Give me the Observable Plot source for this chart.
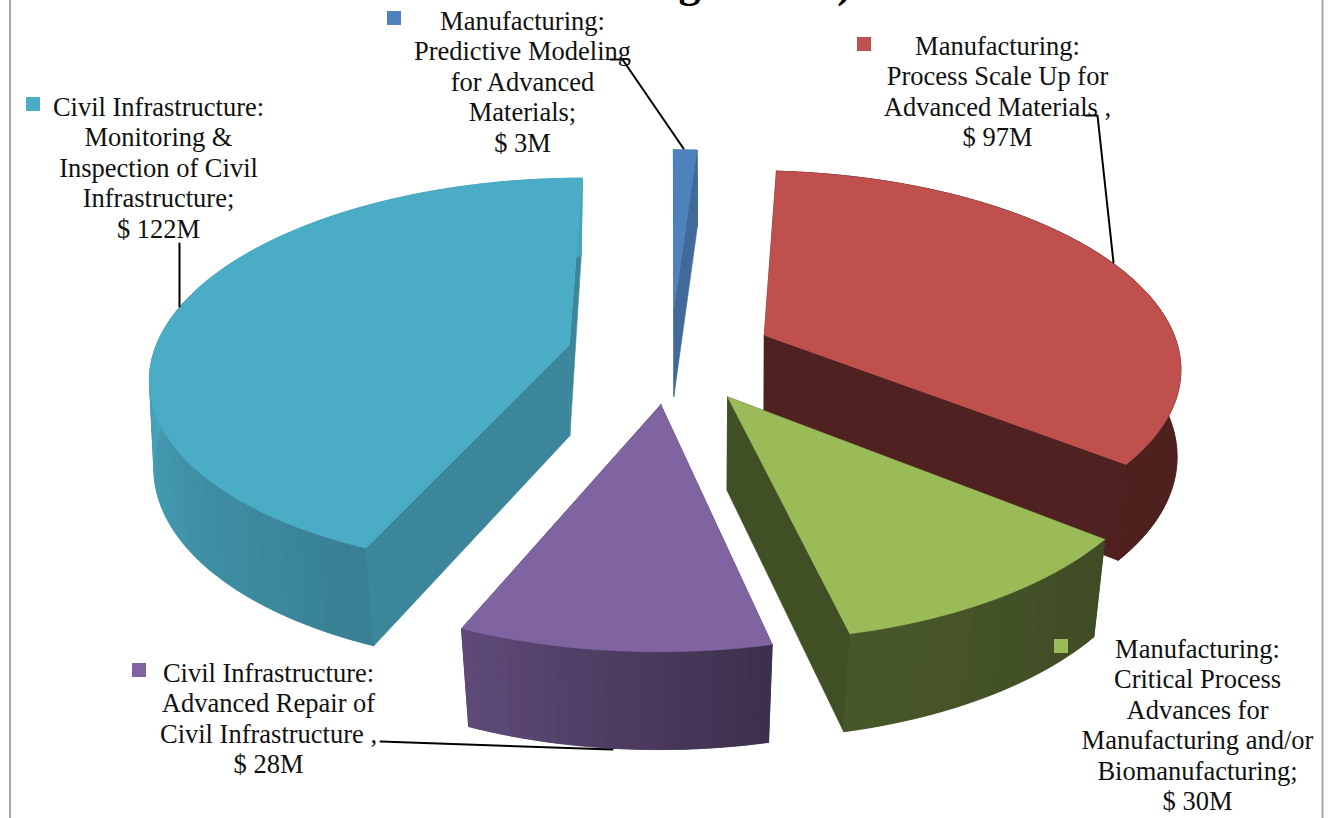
<!DOCTYPE html>
<html>
<head>
<meta charset="utf-8">
<script src="https://cdn.jsdelivr.net/npm/d3@7"></script>
<script src="https://cdn.jsdelivr.net/npm/@observablehq/plot@0.6"></script>
<style>html,body{margin:0;padding:0;background:#fff}</style>
</head>
<body>
<div id="chart"></div>
<script>
// Data
const categories = [
  "Manufacturing: Predictive Modeling for Advanced Materials",
  "Manufacturing: Process Scale Up for Advanced Materials",
  "Manufacturing: Critical Process Advances for Manufacturing and/or Biomanufacturing",
  "Civil Infrastructure: Advanced Repair of Civil Infrastructure",
  "Civil Infrastructure: Monitoring & Inspection of Civil Infrastructure"
];
const values = [3, 97, 30, 28, 122];
const labelTexts = [
  "Manufacturing:\nPredictive Modeling\nfor Advanced\nMaterials;\n$ 3M",
  "Manufacturing:\nProcess Scale Up for\nAdvanced Materials ,\n$ 97M",
  "Manufacturing:\nCritical Process\nAdvances for\nManufacturing and/or\nBiomanufacturing;\n$ 30M",
  "Civil Infrastructure:\nAdvanced Repair of\nCivil Infrastructure ,\n$ 28M",
  "Civil Infrastructure:\nMonitoring &\nInspection of Civil\nInfrastructure;\n$ 122M"
];
// Styles and layout
const colors = ["#4f81bd", "#c0504d", "#9bbb59", "#8064a2", "#4bacc6"];
const innerShade = [0.82, 0.41, 0.42, 0.6, 0.78];
const labelCenterX = [522, 997, 1197, 268, 158];
const labelFirstLineY = [21, 46, 649, 673, 107];
const keyX = [387, 857, 1054, 132, 26];
const keyY = [11, 37, 639, 663, 97];
const leaders = [
  [[610, 59], [622, 59], [683, 148]],
  [[1085, 115], [1097, 115], [1113, 262]],
  [],
  [[380, 741], [612, 749]],
  [[179, 243], [179, 306]]
];
const drawOrder = [0, 4, 1, 3, 2];

// Projection of the exploded pie
const P = {cx: 670, cy: 354, R: 416, Rs: 194, p: 0.148, H: 92, q0: 0.006, q1: 0.02, explode: 0.25};
function project(X, Y, down) {
  const w = 1 + P.p * Y + down * (P.q0 - P.q1 * Y);
  return [P.cx + P.R * X / w, P.cy - (P.Rs * Y - P.H * down) / w];
}
const shadeStops = d3.scaleLinear()
  .domain([0, 3.9, 4, 130, 167, 203, 270, 360])
  .range([0.82, 0.82, 0.41, 0.41, 0.47, 0.74, 0.95, 0.95]).clamp(true);
const darken = (c, f) => { const r = d3.rgb(c); return d3.rgb(r.r * f, r.g * f, r.b * f).formatHex(); };

const arcs = d3.pie().sort(null)(values);
const polys = [];
let pid = 0;
function addPoly(pts, color) {
  const id = pid++;
  for (const [x, y] of [...pts, pts[0]]) polys.push({x, y, id, color});
}
for (const i of drawOrder) {
  const a = arcs[i];
  const mid = (a.startAngle + a.endAngle) / 2;
  const ox = P.explode * Math.sin(mid), oy = P.explode * Math.cos(mid);
  const rim = (t, down) => project(ox + Math.sin(t), oy + Math.cos(t), down);
  const apex = down => project(ox, oy, down);
  const n = Math.max(6, Math.ceil((a.endAngle - a.startAngle) * 40));
  const ts = d3.range(n + 1).map(k => a.startAngle + (a.endAngle - a.startAngle) * k / n);
  const dark = darken(colors[i], innerShade[i]);
  addPoly([apex(0), rim(a.startAngle, 0), rim(a.startAngle, 1), apex(1)], dark);
  addPoly([apex(0), rim(a.endAngle, 0), rim(a.endAngle, 1), apex(1)], dark);
  // outer wall: soft vertical bands of one shade each, over a base of the whole wall
  const shadeAt = k => Math.round(shadeStops((ts[k] + ts[k + 1]) / 2 * 180 / Math.PI) * 120) / 120;
  addPoly([...ts.map(t => rim(t, 0)), ...ts.slice().reverse().map(t => rim(t, 1))], darken(colors[i], shadeAt(Math.floor(n / 2))));
  let from = 0;
  for (let k = 1; k <= n; k++) {
    if (k === n || shadeAt(k) !== shadeAt(from)) {
      const band = ts.slice(from, k + 1);
      addPoly([...band.map(t => rim(t, 0)), ...band.slice().reverse().map(t => rim(t, 1))], darken(colors[i], shadeAt(from)));
      from = k;
    }
  }
  addPoly([apex(0), ...ts.map(t => rim(t, 0))], colors[i]);
}

const labels = categories.map((c, i) => ({text: labelTexts[i], x: labelCenterX[i], y: labelFirstLineY[i]}));
const keys = categories.map((c, i) => ({x1: keyX[i], x2: keyX[i] + 14, y1: keyY[i], y2: keyY[i] + 14, fill: colors[i]}));
const leaderPts = leaders.flatMap((l, id) => l.map(([x, y]) => ({x, y, id})));
const titleBits = [{t: "g", x: 689}, {t: ")", x: 844}];

const chart = Plot.plot({
  width: 1328, height: 818,
  margin: 0,
  style: {background: "#fff"},
  x: {domain: [0, 1328], range: [0, 1328], axis: null},
  y: {domain: [0, 818], range: [0, 818], axis: null},
  marks: [
    Plot.ruleX([9.5, 1322], {stroke: "#a6a6a6", strokeWidth: 2}),
    Plot.text(titleBits, {x: "x", y: () => -4, text: "t", fontFamily: "Liberation Serif", fontWeight: "bold", fontSize: 44, fill: "#000", lineAnchor: "bottom"}),
    Plot.line(polys, {x: "x", y: "y", z: "id", fill: "color", stroke: "color", strokeWidth: 0.6, curve: "linear"}),
    Plot.line(leaderPts, {x: "x", y: "y", z: "id", stroke: "#000", strokeWidth: 2}),
    Plot.rect(keys, {x1: "x1", x2: "x2", y1: "y1", y2: "y2", fill: "fill"}),
    Plot.text(labels, {x: "x", y: "y", text: "text", fontFamily: "Liberation Serif", fontSize: 26.5, lineHeight: 1.15, lineAnchor: "top", dy: -13.5, fill: "#111"})
  ]
});
document.getElementById("chart").appendChild(chart);
</script>
</body>
</html>
